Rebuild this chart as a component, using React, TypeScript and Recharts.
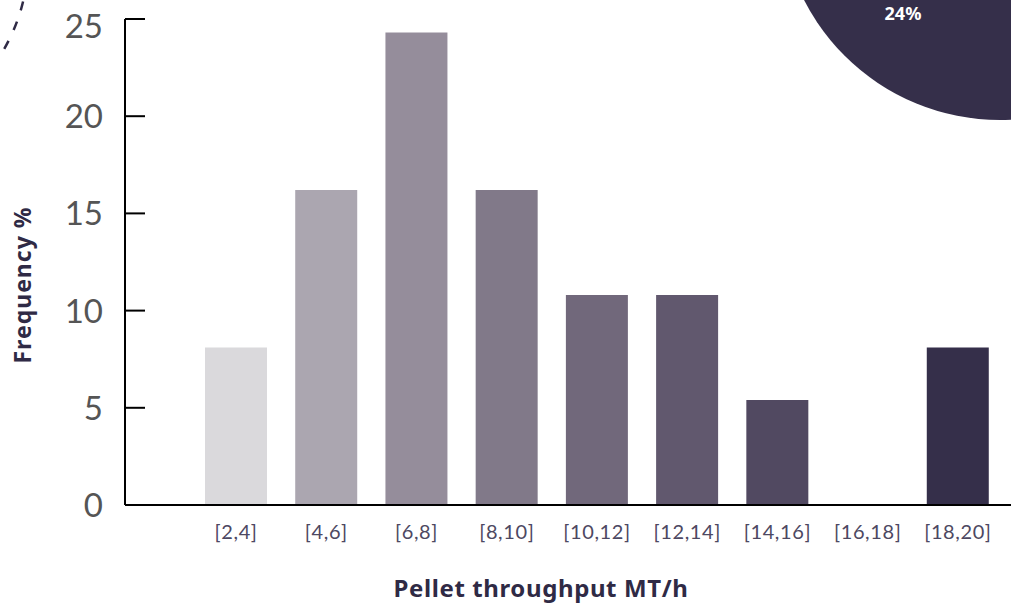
import React from 'react';
import { BarChart, Bar, XAxis, YAxis, Cell } from 'recharts';

// throughput bins (MT/h) and share of samples in each bin
const categories = ['[2,4]', '[4,6]', '[6,8]', '[8,10]', '[10,12]', '[12,14]', '[14,16]', '[16,18]', '[18,20]'];
const frequency = [8.1, 16.2, 24.3, 16.2, 10.8, 10.8, 5.4, 0, 8.1];
const yTicks = [0, 5, 10, 15, 20, 25];
const highlightLabel = '24%';

const barColors = ['#dad9dc', '#aba6b0', '#958d9b', '#817989', '#71687b', '#61586e', '#514961', '#433c55', '#352f4a'];

const data = categories.map((range, i) => ({ range, freq: frequency[i] }));

const W = 1011;
const H = 608;

const YTick = (props: any) => {
  const { x, y, payload } = props;
  const top = payload.value === yTicks[yTicks.length - 1];
  return (
    <g>
      <line x1={x + 22} x2={x + 42} y1={y} y2={y} stroke="#000" strokeWidth={2} />
      <text
        x={x}
        y={y}
        dy={top ? 19 : 12}
        textAnchor="end"
        fontSize={33}
        fill="#555555"
        fontFamily="Lato, 'Noto Sans', sans-serif"
      >
        {payload.value}
      </text>
    </g>
  );
};

const YLabel = (props: any) => {
  const { viewBox } = props;
  const x = viewBox.x + 31;
  const y = viewBox.y + viewBox.height / 2 + 23;
  return (
    <text
      x={x}
      y={y}
      transform={`rotate(-90 ${x} ${y})`}
      textAnchor="middle"
      fontSize={23}
      letterSpacing={1}
      fontWeight={700}
      fill="#2f2a45"
      fontFamily="'Noto Sans', sans-serif"
    >
      Frequency %
    </text>
  );
};

export default function App() {
  return (
    <div style={{ position: 'relative', width: W, height: H }}>
      <style>{`body { margin: 0; }`}</style>
      <BarChart width={W} height={H} data={data} margin={{ top: 19, right: 0, bottom: 0, left: 0 }}>
        <XAxis
          dataKey="range"
          interval={0}
          height={103}
          padding={{ left: 66, right: 8 }}
          tickLine={false}
          tickSize={0}
          tickMargin={20}
          axisLine={{ stroke: '#000', strokeWidth: 2 }}
          tick={{ fontSize: 20, fill: '#4d4862', fontFamily: 'Lato, sans-serif', letterSpacing: 0.6 }}
          label={{
            value: 'Pellet throughput MT/h',
            position: 'insideBottom',
            offset: 11,
            dx: -27,
            fontSize: 24,
            letterSpacing: 0.6,
            fontWeight: 700,
            fill: '#2f2a45',
            fontFamily: "'Noto Sans', sans-serif",
          }}
        />
        <YAxis
          width={125}
          domain={[0, 25]}
          ticks={yTicks}
          tickLine={false}
          tickSize={0}
          tickMargin={22}
          axisLine={{ stroke: '#000', strokeWidth: 2 }}
          tick={<YTick />}
          label={<YLabel />}
        />
        <Bar dataKey="freq" barSize={62} isAnimationActive={false}>
          {data.map((d, i) => (
            <Cell key={d.range} fill={barColors[i]} />
          ))}
        </Bar>
      </BarChart>
      <svg
        width={W}
        height={H}
        style={{ position: 'absolute', left: 0, top: 0, pointerEvents: 'none' }}
      >
        <circle cx={-150} cy={-40} r={178} fill="none" stroke="#2f2a45" strokeWidth={2.5} strokeDasharray="9 12" />
        <circle cx={1000} cy={-100} r={220} fill="#352f4a" />
        <text
          x={903}
          y={20}
          textAnchor="middle"
          fontSize={18}
          fontWeight={700}
          fill="#ffffff"
          fontFamily="'Noto Sans', sans-serif"
        >
          {highlightLabel}
        </text>
      </svg>
    </div>
  );
}
